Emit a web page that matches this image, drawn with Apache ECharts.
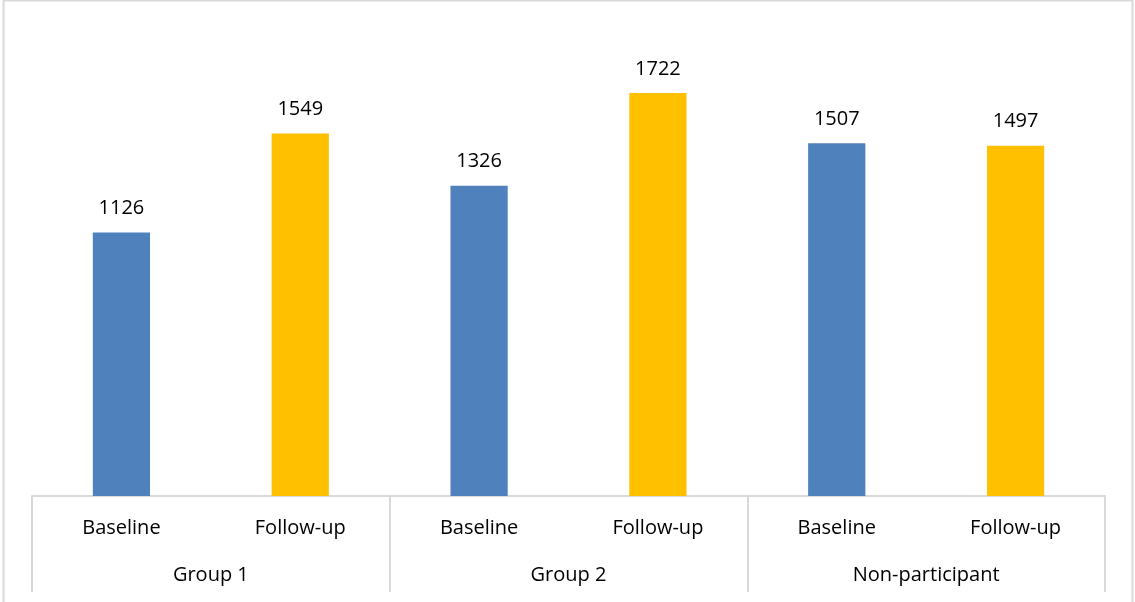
<!DOCTYPE html>
<html>
<head>
<meta charset="utf-8">
<script src="https://cdn.jsdelivr.net/npm/echarts@6/dist/echarts.min.js"></script>
<style>
  html, body { margin: 0; padding: 0; background: #fff; }
  #chart { width: 1135px; height: 602px; }
</style>
</head>
<body>
<div id="chart"></div>
<script>
const periods = ['Baseline', 'Follow-up', 'Baseline', 'Follow-up', 'Baseline', 'Follow-up']
const groups = ['Group 1', 'Group 2', 'Non-participant']
const values = [1126, 1549, 1326, 1722, 1507, 1497]
const barColors = ['#4F81BD', '#FFC000']

const font = 'Open Sans'
const lineColor = '#d9d9d9'

const chart = echarts.init(document.getElementById('chart'), null, { renderer: 'canvas' })

chart.setOption({
  animation: false,
  backgroundColor: '#fff',
  textStyle: { fontFamily: font, color: '#000' },
  graphic: [
    {
      type: 'rect',
      shape: { x: 3.5, y: 0.5, width: 1129, height: 620 },
      style: { fill: 'none', stroke: lineColor, lineWidth: 2 },
      silent: true,
      z: -1,
    },
  ],
  grid: { left: 32, right: 30, top: 28, bottom: 106, containLabel: false },
  xAxis: [
    {
      type: 'category',
      data: periods,
      position: 'bottom',
      axisLine: { show: true, lineStyle: { color: lineColor, width: 2 } },
      axisTick: { show: false },
      axisLabel: { color: '#000', fontSize: 20, fontFamily: font, margin: 22, interval: 0 },
    },
    {
      type: 'category',
      data: groups,
      position: 'bottom',
      axisLine: { show: false },
      axisTick: { show: true, length: 96, lineStyle: { color: lineColor, width: 2 } },
      axisLabel: { color: '#000', fontSize: 20, fontFamily: font, margin: 69, interval: 0 },
    },
  ],
  yAxis: {
    type: 'value',
    min: 0,
    max: 2000,
    show: false,
    splitLine: { show: false },
  },
  series: [
    {
      type: 'bar',
      xAxisIndex: 0,
      barWidth: '32%',
      data: values.map((v, i) => ({ value: v, itemStyle: { color: barColors[i % 2] } })),
      label: {
        show: true,
        position: 'top',
        distance: 14,
        color: '#000',
        fontSize: 20,
        fontFamily: font,
      },
    },
  ],
})
</script>
</body>
</html>
